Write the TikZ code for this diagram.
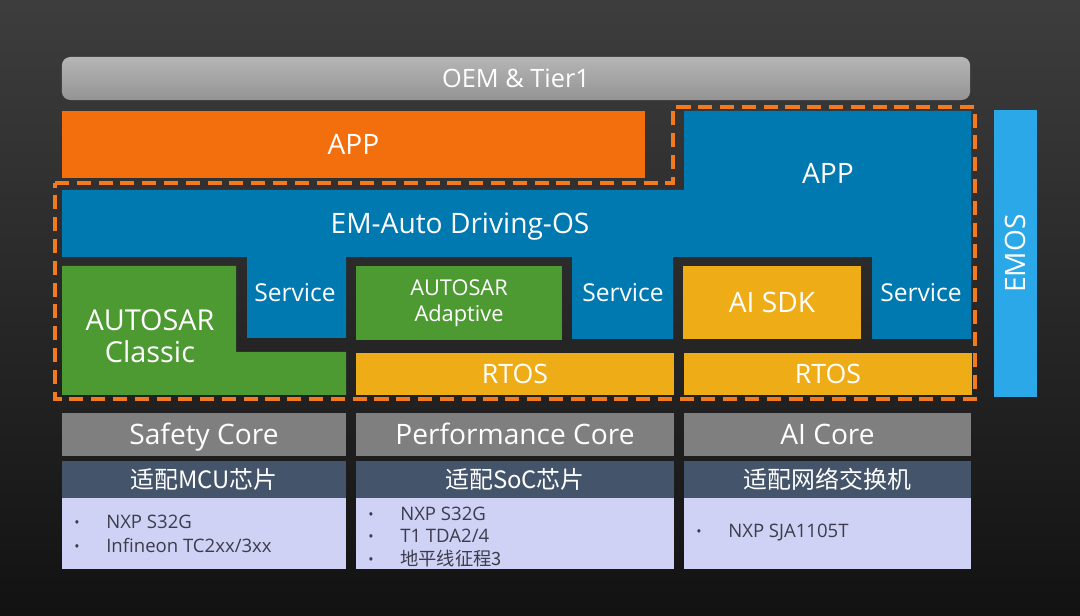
\documentclass[tikz,border=0pt]{standalone}
\usepackage{fontspec}
\setmainfont{Open Sans}
\newfontfamily\cjk{Noto Sans CJK SC}
\usetikzlibrary{positioning}

\definecolor{appOrange}{HTML}{F36F0D}
\definecolor{osBlue}{HTML}{0078B0}
\definecolor{arGreen}{HTML}{4D9A33}
\definecolor{rtYellow}{HTML}{EEAD17}
\definecolor{emosBlue}{HTML}{2AA8E8}
\definecolor{coreGray}{HTML}{7F7F7F}
\definecolor{chipHead}{HTML}{44546A}
\definecolor{chipBody}{HTML}{D0D2F5}
\definecolor{dashOrange}{HTML}{F47A1E}
\definecolor{listText}{HTML}{3C3C4C}

\newcommand{\chipitem}[1]{\makebox[0.8cm][l]{\raisebox{1pt}{\fontsize{10}{10}\selectfont\textbullet}}#1}

\begin{document}
\begin{tikzpicture}[
  x=0.025cm, y=-0.025cm,
  every node/.style={text=white, inner sep=0pt},
  block/.style={rectangle, minimum height=1.825cm},
  big/.style={font=\fontsize{20}{24}\selectfont, text height=14.3pt, text depth=0pt},
  mid/.style={font=\fontsize{17.5}{21}\selectfont, text height=12.5pt, text depth=0pt},
  rtos/.style={font=\fontsize{19}{23}\selectfont, text height=13.6pt, text depth=0pt},
  core/.style={rectangle, fill=coreGray, minimum height=1.075cm, big},
  chiphead/.style={rectangle, fill=chipHead, minimum height=0.925cm,
                   font=\cjk\fontsize{17}{20}\selectfont, text height=14.5pt, text depth=1.5pt},
  chipbody/.style={rectangle, fill=chipBody, minimum height=1.775cm},
  chiplist/.style={anchor=west, align=left, text=listText}
]
  % background
  \shade[top color=black!76, bottom color=black!93] (0,0) rectangle (1080,616);

  % top rows
  \node[rectangle, rounded corners=6pt, top color=black!29, bottom color=black!42,
        minimum width=22.7cm, minimum height=1.075cm,
        font=\fontsize{18}{22}\selectfont, text height=12.9pt, text depth=0pt]
        (oem) at (516,78.5) {OEM \& Tier1};
  \node[block, big, fill=appOrange, minimum width=14.575cm, minimum height=1.675cm]
        (appL) at (353.5,144.5) {APP};

  % EM-Auto Driving-OS with its services
  \fill[osBlue] (62,190) -- (684,190) -- (684,111) -- (971,111) -- (971,339)
    -- (872,339) -- (872,257) -- (673,257) -- (673,339) -- (572,339) -- (572,257)
    -- (346,257) -- (346,338) -- (247,338) -- (247,257) -- (62,257) -- cycle;
  \node[big] (appR)  at (828,173) {APP};
  \node[big] (emado) at (460,223) {EM-Auto Driving-OS};
  \node[mid] (svcA)  at (295,293) {Service};
  \node[mid] (svcB)  at (623,293) {Service};
  \node[mid] (svcC)  at (921,293) {Service};

  % AUTOSAR Classic
  \fill[arGreen] (62,266) -- (236,266) -- (236,352) -- (346,352) -- (346,395) -- (62,395) -- cycle;
  \node[align=center, font=\fontsize{20.5}{23}\selectfont] (classic) at (150,336) {AUTOSAR\\Classic};

  \node[block, fill=arGreen, minimum width=5.15cm, align=center, font=\fontsize{15.5}{18.5}\selectfont]
        (adaptive) at (459,303) {AUTOSAR\\Adaptive};
  \node[block, big, fill=rtYellow, minimum width=4.45cm] (aisdk) at (772,302.5) {AI SDK};
  \node[block, rtos, fill=rtYellow, minimum width=7.95cm, minimum height=1.05cm] (rtosA) at (515,374) {RTOS};
  \node[block, rtos, fill=rtYellow, minimum width=7.2cm, minimum height=1.05cm]  (rtosB) at (828,374) {RTOS};

  % EMOS bar
  \node[rectangle, fill=emosBlue, minimum width=1.075cm, minimum height=7.175cm] (emosbar) at (1015.5,253.5) {};
  \node[big, rotate=90] (emos) at (emosbar.center) {EMOS};

  % dashed frame
  \draw[dashOrange, line width=2.8pt, dash pattern=on 10pt off 5.5pt]
    (55,183) -- (673,183) -- (673,107) -- (975,107) -- (975,399) -- (55,399) -- cycle;

  % cores
  \node[core, minimum width=7.1cm]   (safety) at (204,434.5)   {Safety Core};
  \node[core, minimum width=7.95cm]  (perf)   at (515,434.5)   {Performance Core};
  \node[core, minimum width=7.175cm] (aicore) at (827.5,434.5) {AI Core};

  \node[chiphead, minimum width=7.1cm]   (mcu)    at (204,479.5)   {适配MCU芯片};
  \node[chiphead, minimum width=7.95cm]  (soc)    at (515,479.5)   {适配SoC芯片};
  \node[chiphead, minimum width=7.175cm] (switch) at (827.5,479.5) {适配网络交换机};

  \node[chipbody, minimum width=7.1cm]   (mcuBody)    at (204,533.5)   {};
  \node[chipbody, minimum width=7.95cm]  (socBody)    at (515,533.5)   {};
  \node[chipbody, minimum width=7.175cm] (switchBody) at (827.5,533.5) {};

  \node[chiplist, font=\fontsize{13.2}{17}\selectfont] (mcuList) at (74,534)
    {\chipitem{NXP S32G}\\\chipitem{Infineon TC2xx/3xx}};
  \node[chiplist, font=\fontsize{13.2}{16}\selectfont] (socList) at (368,537)
    {\chipitem{NXP S32G}\\\chipitem{T1 TDA2/4}\\\chipitem{{\cjk\fontsize{13}{16}\selectfont 地平线征程3}}};
  \node[chiplist, font=\fontsize{13.2}{16}\selectfont] (switchList) at (696,533)
    {\chipitem{NXP SJA1105T}};
\end{tikzpicture}
\end{document}
